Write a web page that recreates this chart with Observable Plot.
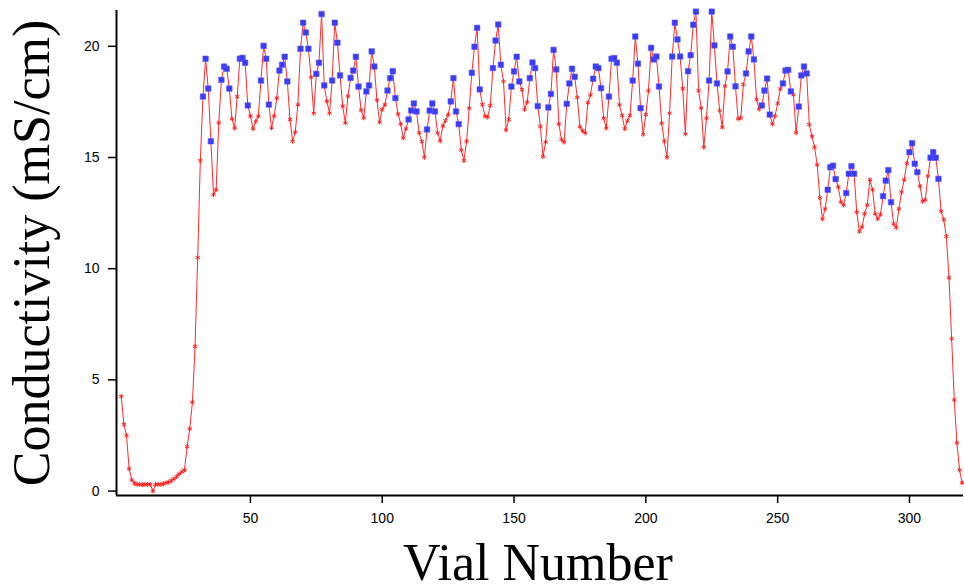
<!DOCTYPE html>
<html><head><meta charset="utf-8">
<script src="https://cdn.jsdelivr.net/npm/d3@7"></script>
<script src="https://cdn.jsdelivr.net/npm/@observablehq/plot@0.6"></script>
<style>
body{margin:0;background:#fff;}
#chart svg{display:block;}
#chart svg g[aria-label$="tick label"], #chart svg g[aria-label$="tick label"] text{font-size:14px !important;}
</style>
</head><body><div id="chart"></div>
<script>
// Conductivity (mS/cm) for vials 1..320
const conductivity = [
 4.26,3.0,2.5,1.0,0.5,0.35,0.3,0.3,0.28,0.3,
 0.3,0.3,0.0,0.3,0.3,0.3,0.33,0.37,0.4,0.47,
 0.55,0.65,0.77,0.87,0.95,2.0,2.8,4.0,6.5,10.5,
 14.86,17.74,19.44,18.1,15.73,13.33,13.55,16.56,18.49,19.09,
 18.99,18.1,16.74,16.33,17.74,19.44,19.48,19.26,17.34,16.86,
 16.29,16.62,16.86,18.46,20.02,19.44,17.38,16.33,16.86,17.67,
 18.91,19.17,19.53,18.42,16.71,15.73,16.14,17.37,19.89,21.06,
 20.62,19.89,18.61,16.99,18.76,19.26,21.45,18.24,17.53,16.99,
 18.46,21.06,20.16,18.69,17.31,16.56,17.76,18.58,18.91,19.53,
 18.19,17.13,16.78,17.97,18.24,19.77,19.09,17.58,16.59,17.16,
 17.37,18.01,18.57,18.88,17.67,16.96,16.51,15.88,16.29,16.71,
 17.11,17.43,17.07,16.11,15.72,15.01,16.26,17.11,17.43,17.07,
 16.11,15.75,16.42,16.66,16.92,17.52,18.57,17.07,16.5,15.33,
 14.86,15.73,17.22,18.81,19.98,20.83,18.06,17.38,16.86,16.81,
 17.34,19.02,20.26,20.98,19.17,18.42,16.24,16.71,18.19,18.87,
 19.53,18.42,18.06,17.16,17.49,18.57,19.27,19.02,17.31,16.39,
 15.04,15.69,17.25,17.86,19.84,18.96,16.51,15.81,15.69,17.41,
 18.33,18.99,18.63,17.7,16.38,16.2,16.1,17.46,17.82,18.54,
 19.09,19.02,18.12,16.77,16.32,17.74,19.44,19.47,19.26,17.37,
 16.89,16.29,16.65,16.89,18.46,20.44,19.22,17.22,16.04,16.93,
 18.01,19.93,19.41,19.54,18.19,16.54,15.73,15.01,16.99,19.54,
 21.06,20.31,19.54,18.1,16.06,18.88,19.6,20.97,21.56,18.01,
 17.22,15.46,16.77,18.46,21.56,20.04,18.33,17.11,16.36,18.21,
 18.87,20.44,19.98,18.2,16.74,16.78,18.28,18.78,19.77,20.44,
 19.41,17.62,17.17,17.34,18.01,18.55,16.93,16.51,16.86,17.43,
 18.09,18.33,18.91,18.94,17.97,17.82,16.11,17.29,18.69,19.09,
 18.78,16.48,15.96,15.46,14.67,13.19,12.24,12.69,13.55,14.56,
 14.63,14.03,13.67,13.0,12.86,13.4,14.27,14.61,14.27,12.54,
 11.67,11.87,12.47,12.87,14.0,13.55,12.47,12.24,12.44,13.26,
 13.96,14.43,12.99,12.02,11.85,12.69,13.44,14.0,14.74,15.24,
 15.64,14.72,14.34,13.71,13.03,13.1,14.16,14.99,15.24,14.99,
 14.04,12.58,12.21,11.45,9.59,6.86,4.1,2.17,0.95,0.37
];
// Vials marked with blue squares
const selectedVials = [
 32,33,34,35, 39,40,41,42, 46,47,48,49, 54,55,56,57, 61,62,63,64,
 69,70,71,72, 75,76,77,78, 81,82,83,84, 88,89,90,91, 94,95,96,97,
 102,103,104,105, 110,111,112,113, 117,118,119,120, 126,127,128,129,
 134,135,136,137, 142,143,144,145, 149,150,151,152, 156,157,158,159,
 163,164,165,166, 170,171,172,173, 180,181,182,183, 186,187,188,189,
 195,196,197,198, 202,203,204,205, 210,211,212,213, 216,217,218,219,
 224,225,226,227, 231,232,233,234, 238,239,240,241, 244,245,246,247,
 252,253,254,255, 258,259,260,261, 269,270,271,272, 276,277,278,279,
 290,291,292,293, 300,301,302,303, 308,309,310,311
];
const xTicks = [50, 100, 150, 200, 250, 300];
const yTicks = [0, 5, 10, 15, 20];
const xTitle = "Vial Number";
const yTitle = "Conductivity (mS/cm)";

const data = conductivity.map((v, i) => ({vial: i + 1, value: v}));
const sel = new Set(selectedVials);
const blue = data.filter(d => sel.has(d.vial));

const xDomain = [-0.8, 320.5];
const yDomain = [-0.2, 21.61];
const serif = "'Liberation Serif', 'Times New Roman', serif";

const chart = Plot.plot({
  width: 964, height: 586,
  marginLeft: 116, marginRight: 1, marginTop: 10, marginBottom: 91,
  style: {background: "#fff", color: "#000", fontSize: "14px", fontFamily: "'Liberation Sans', Arial, sans-serif"},
  x: {domain: xDomain},
  y: {domain: yDomain},
  marks: [
    Plot.axisX({ticks: xTicks, tickSize: 8, tickPadding: 10, label: null, strokeWidth: 1.5, tickFormat: d => String(d)}),
    Plot.axisY({ticks: yTicks, tickSize: 8, tickPadding: 9, label: null, strokeWidth: 1.5, tickFormat: d => String(d)}),
    Plot.ruleX([xDomain[0]], {stroke: "#000", strokeWidth: 2}),
    Plot.ruleY([yDomain[0]], {stroke: "#000", strokeWidth: 2}),
    Plot.line(data, {x: "vial", y: "value", stroke: "#ff2a2a", strokeWidth: 1}),
    Plot.dot(data, {x: "vial", y: "value", symbol: "asterisk", r: 2.3, stroke: "#ff2020", strokeWidth: 1}),
    Plot.dot(blue, {x: "vial", y: "value", symbol: "square", r: 3.1, fill: "#3b3bf2", stroke: "#5a5aff", strokeWidth: 0.6}),
    Plot.text([xTitle], {text: d => d, frameAnchor: "bottom", textAnchor: "middle", dx: -2, dy: 67.5, lineAnchor: "middle", fontSize: 52, fontFamily: serif, fill: "#000"}),
    Plot.text([yTitle], {text: d => d, frameAnchor: "left", textAnchor: "middle", dx: -84.6, rotate: -90, lineAnchor: "middle", fontSize: 52, fontFamily: serif, fill: "#000"})
  ]
});
document.getElementById("chart").appendChild(chart);
</script>
</body></html>
